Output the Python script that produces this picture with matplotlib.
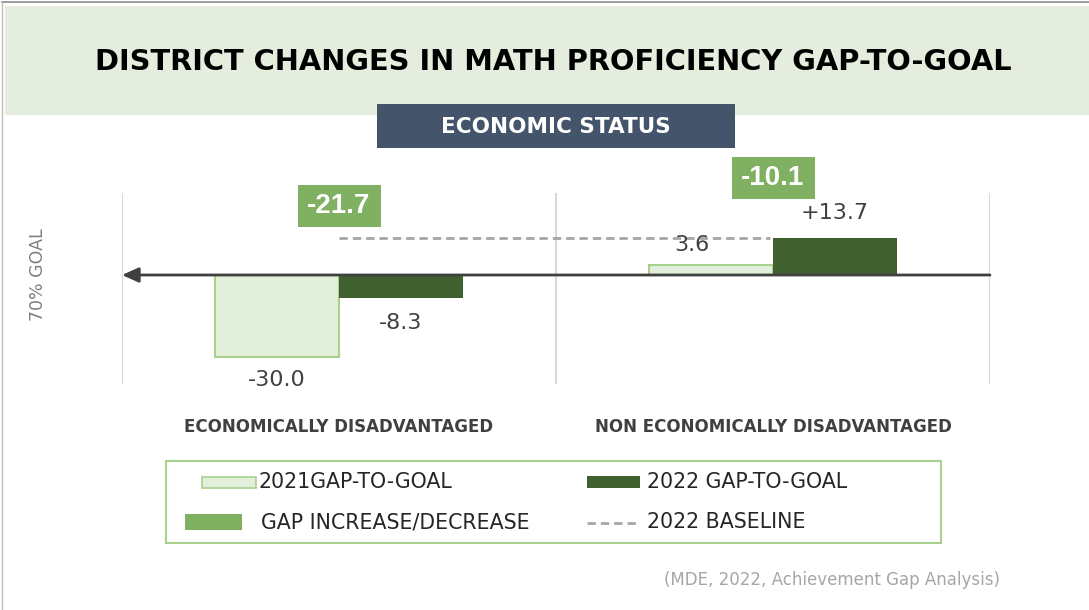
import matplotlib
matplotlib.use("Agg")
import matplotlib.pyplot as plt
from matplotlib.patches import Rectangle
from matplotlib.lines import Line2D

# data
groups = ["ECONOMICALLY DISADVANTAGED", "NON ECONOMICALLY DISADVANTAGED"]
gap_2021 = [-30.0, 3.6]
gap_2022 = [-8.3, 13.7]
gap_change = [-21.7, -10.1]
labels_2021 = ["-30.0", "3.6"]
labels_2022 = ["-8.3", "+13.7"]
legend_labels = ["2021GAP-TO-GOAL", "2022 GAP-TO-GOAL", "GAP INCREASE/DECREASE", "2022 BASELINE"]

# colours
BANNER = "#E4EDDE"
SLATE = "#44546A"
LIGHT = "#E2EFDA"
LIGHT_EDGE = "#A9D18E"
DARK = "#41602F"
GREEN = "#80B062"
TEXT = "#404040"
DASH = (0, (3, 1.8))

fig = plt.figure(figsize=(10.89, 6.10), dpi=100)

# decoration layer in pixel coordinates
deco = fig.add_axes([0, 0, 1, 1])
deco.set_xlim(0, 1089)
deco.set_ylim(610, 0)
deco.axis("off")

deco.plot([2, 1089], [2, 2], color="#8C8C8C", lw=1.2)
deco.plot([2, 2], [2, 610], color="#BFBFBF", lw=1.0)
deco.add_patch(Rectangle((5, 6), 1084, 109, color=BANNER, lw=0))
deco.text(553, 62, "DISTRICT CHANGES IN MATH PROFICIENCY GAP-TO-GOAL",
          ha="center", va="center", fontsize=20.8, fontweight="bold",
          color="black")

deco.add_patch(Rectangle((377, 104), 358, 44, color=SLATE, lw=0))
deco.text(556, 127, "ECONOMIC STATUS", ha="center", va="center",
          fontsize=15.5, fontweight="bold", color="white")

deco.text(38, 275, "70% GOAL", rotation=90, ha="center", va="center",
          fontsize=12.5, color="#7F7F7F")

# legend
deco.add_patch(Rectangle((166, 461), 775, 82, fill=False, ec=LIGHT_EDGE, lw=1.5))
deco.add_patch(Rectangle((202, 477), 54, 11, fc=LIGHT, ec=LIGHT_EDGE, lw=1.2))
deco.add_patch(Rectangle((587, 476), 53, 12, fc=DARK, lw=0))
deco.add_patch(Rectangle((185, 514), 57, 16, fc=GREEN, lw=0))
deco.add_line(Line2D([587, 640], [523, 523], color="#A6A6A6", lw=2,
                     linestyle=DASH))
for (x, y), lab in zip([(259, 482), (647, 482), (261, 522), (647, 522)], legend_labels):
    deco.text(x, y, lab, ha="left", va="center", fontsize=14.8, color="#262626")

deco.text(1000, 580, "(MDE, 2022, Achievement Gap Analysis)", ha="right",
          va="center", fontsize=12, color="#A6A6A6")

# chart
ax = fig.add_axes([122 / 1089, (610 - 384) / 610, 868 / 1089, 191 / 610])
ax.set_xlim(0, 2)
ax.set_ylim(-39.85, 29.98)
ax.axis("off")
ax.patch.set_alpha(0)

centers = [0.5, 1.5]
bw = 124 / 434

for x in [0, 1, 2]:
    ax.axvline(x, color="#D9D9D9", lw=1.5, zorder=0)

ax.bar([c - bw / 2 for c in centers], gap_2021, width=bw, color=LIGHT,
       edgecolor=LIGHT_EDGE, lw=1.5, zorder=2)
ax.bar([c + bw / 2 for c in centers], gap_2022, width=bw, color=DARK, zorder=2)

ax.hlines(gap_2022[1], centers[0], centers[1] - 0.008, colors="#A6A6A6", lw=2,
          linestyles=DASH, zorder=1)

ax.annotate("", xy=(0, 0), xytext=(2, 0),
            arrowprops=dict(arrowstyle="-|>,head_length=1.0,head_width=0.45",
                            color="#404040", lw=2, shrinkA=0, shrinkB=0),
            zorder=5)

offs_2021 = [(0, -23), (-19, 20)]
offs_2022 = [(0, -25), (0, 25)]
for i, c in enumerate(centers):
    ax.annotate(labels_2021[i], xy=(c - bw / 2, gap_2021[i]), xytext=offs_2021[i],
                textcoords="offset pixels", ha="center", va="center",
                fontsize=16, color=TEXT, annotation_clip=False)
    ax.annotate(labels_2022[i], xy=(c + bw / 2, gap_2022[i]), xytext=offs_2022[i],
                textcoords="offset pixels", ha="center", va="center",
                fontsize=16, color=TEXT, annotation_clip=False)

# gap change boxes
box_y = [25.2, 35.3]
box_w = 83 / 434
box_h = 42 / 2.735
for i, c in enumerate(centers):
    ax.add_patch(Rectangle((c - box_w / 2, box_y[i] - box_h / 2), box_w, box_h,
                           color=GREEN, lw=0, clip_on=False, zorder=4))
    ax.text(c, box_y[i], f"{gap_change[i]:.1f}", ha="center", va="center",
            fontsize=20, fontweight="bold", family=["Liberation Sans", "DejaVu Sans"],
            color="white", clip_on=False, zorder=5)

for i, c in enumerate(centers):
    ax.text(c, -0.225, groups[i], transform=ax.get_xaxis_transform(),
            ha="center", va="center", fontsize=12, fontweight="bold",
            color=TEXT, clip_on=False)

fig.savefig("out.png", dpi=100)
